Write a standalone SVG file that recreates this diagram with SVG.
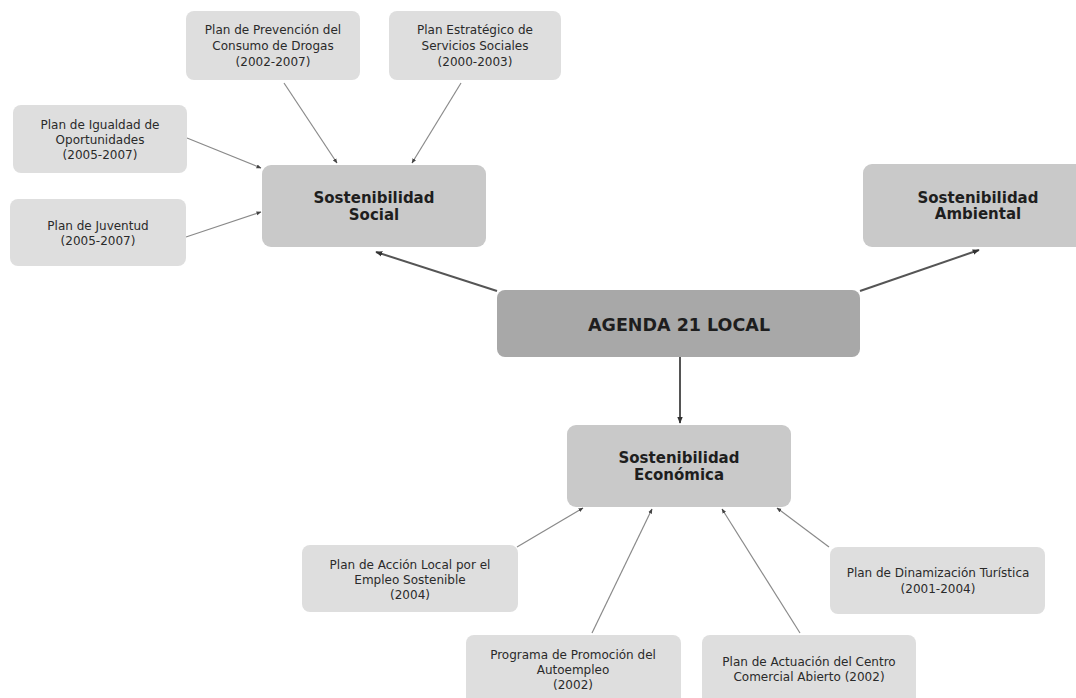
<svg xmlns="http://www.w3.org/2000/svg" width="1076" height="698" viewBox="0 0 1076 698">
<style>
.small rect{fill:#dedede}
.mid rect{fill:#c9c9c9}
.top rect{fill:#a8a8a8}
text{font-family:"DejaVu Sans","Liberation Sans",sans-serif;fill:#2a2a2a;text-anchor:middle}
.small text{font-size:12px}
.mid text{font-size:15px;font-weight:bold;fill:#1e1e1e}
.top text{font-size:17.5px;font-weight:bold;fill:#1e1e1e}
.thin{stroke:#8a8a8a;stroke-width:1.2;fill:none;marker-end:url(#a)}
.thick{stroke:#555;stroke-width:2;fill:none;marker-end:url(#b)}
</style>
<defs>
<marker id="a" viewBox="0 0 10 10" refX="9" refY="5" markerWidth="5" markerHeight="5" orient="auto" markerUnits="userSpaceOnUse"><path d="M0,1 L10,5 L0,9 z" fill="#444"/></marker>
<marker id="b" viewBox="0 0 10 10" refX="9" refY="5" markerWidth="7" markerHeight="7" orient="auto" markerUnits="userSpaceOnUse"><path d="M0,1 L10,5 L0,9 z" fill="#333"/></marker>
</defs>
<rect width="1076" height="698" fill="#fff"/>
<g id="connectors">
<line class="thin" x1="284" y1="83" x2="337" y2="163"/>
<line class="thin" x1="461" y1="83" x2="412" y2="163"/>
<line class="thin" x1="187" y1="138" x2="261" y2="168"/>
<line class="thin" x1="186" y1="237" x2="261" y2="212"/>
<line class="thick" x1="497" y1="291" x2="376" y2="252"/>
<line class="thick" x1="860" y1="291" x2="979" y2="250"/>
<line class="thick" x1="680" y1="357" x2="680" y2="423"/>
<line class="thin" x1="517" y1="547" x2="583" y2="508"/>
<line class="thin" x1="592" y1="633" x2="652" y2="509"/>
<line class="thin" x1="800" y1="633" x2="722" y2="509"/>
<line class="thin" x1="829" y1="547" x2="777" y2="508"/>
</g>
<g id="prevencion" class="small"><rect x="186" y="11" width="174" height="69" rx="8"/>
<text x="273" y="34">Plan de Prevención del</text><text x="273" y="50">Consumo de Drogas</text><text x="273" y="66">(2002-2007)</text></g>
<g id="estrategico" class="small"><rect x="389" y="11" width="172" height="69" rx="8"/>
<text x="475" y="34">Plan Estratégico de</text><text x="475" y="50">Servicios Sociales</text><text x="475" y="66">(2000-2003)</text></g>
<g id="igualdad" class="small"><rect x="13" y="105" width="174" height="68" rx="8"/>
<text x="100" y="129">Plan de Igualdad de</text><text x="100" y="144">Oportunidades</text><text x="100" y="159">(2005-2007)</text></g>
<g id="juventud" class="small"><rect x="10" y="199" width="176" height="67" rx="8"/>
<text x="98" y="230">Plan de Juventud</text><text x="98" y="245">(2005-2007)</text></g>
<g id="social" class="mid"><rect x="262" y="165" width="224" height="82" rx="9"/>
<text x="374" y="203">Sostenibilidad</text><text x="374" y="220">Social</text></g>
<g id="ambiental" class="mid"><rect x="863" y="164" width="230" height="83" rx="9"/>
<text x="978" y="203">Sostenibilidad</text><text x="978" y="219">Ambiental</text></g>
<g id="agenda" class="top"><rect x="497" y="290" width="363" height="67" rx="8"/>
<text x="679" y="331">AGENDA 21 LOCAL</text></g>
<g id="economica" class="mid"><rect x="567" y="425" width="224" height="82" rx="9"/>
<text x="679" y="463">Sostenibilidad</text><text x="679" y="480">Económica</text></g>
<g id="accion" class="small"><rect x="302" y="545" width="216" height="67" rx="8"/>
<text x="410" y="569">Plan de Acción Local por el</text><text x="410" y="584">Empleo Sostenible</text><text x="410" y="599">(2004)</text></g>
<g id="dinamizacion" class="small"><rect x="830" y="547" width="215" height="67" rx="8"/>
<text x="938" y="577">Plan de Dinamización Turística</text><text x="938" y="593">(2001-2004)</text></g>
<g id="programa" class="small"><rect x="466" y="635" width="215" height="75" rx="8"/>
<text x="573" y="659">Programa de Promoción del</text><text x="573" y="674">Autoempleo</text><text x="573" y="689">(2002)</text></g>
<g id="actuacion" class="small"><rect x="702" y="635" width="214" height="75" rx="8"/>
<text x="809" y="666">Plan de Actuación del Centro</text><text x="809" y="681">Comercial Abierto (2002)</text></g>
</svg>
